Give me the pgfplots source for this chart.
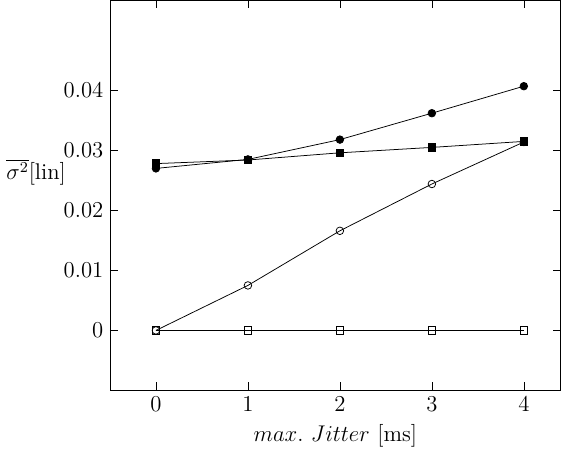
\documentclass[border=0pt]{standalone}
\usepackage{pgfplots}
\pgfplotsset{compat=1.18}
\begin{document}
\begin{tikzpicture}
\begin{axis}[width=238pt,height=206pt,scale only axis,
xmin=-0.5,xmax=4.4,ymin=-0.01,ymax=0.055,
xtick={0,1,2,3,4},ytick={0,0.01,0.02,0.03,0.04},
yticklabel style={/pgf/number format/fixed,/pgf/number format/precision=2},
scaled y ticks=false,
tick label style={font=\large},label style={font=\large},
tick align=inside,tick style={black},
xlabel={$max.\ Jitter$ [ms]},
ylabel={$\overline{\sigma^2}$[lin]},
ylabel style={rotate=-90,at={(ticklabel cs:0.56)},anchor=east,xshift=8pt},
every axis plot/.append style={black,thin,mark size=2pt}]
\addplot[mark=*] coordinates {(0,0.0270)(1,0.0285)(2,0.0318)(3,0.0362)(4,0.0407)};
\addplot[mark=square*] coordinates {(0,0.0278)(1,0.0284)(2,0.0296)(3,0.0305)(4,0.0315)};
\addplot[mark=o] coordinates {(0,0)(1,0.0075)(2,0.0166)(3,0.0244)(4,0.0314)};
\addplot[mark=square] coordinates {(0,0)(1,0)(2,0)(3,0)(4,0)};
\end{axis}
\end{tikzpicture}
\end{document}
